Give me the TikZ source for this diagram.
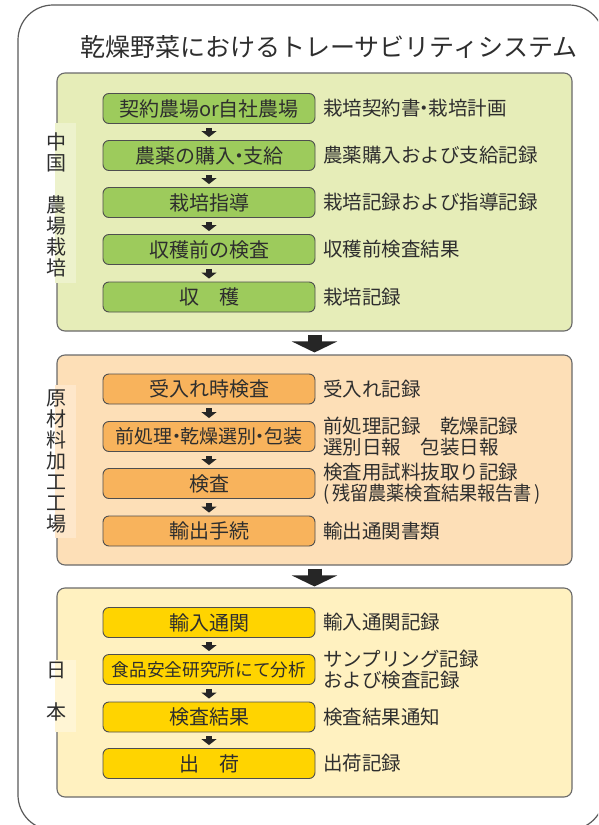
\documentclass[tikz,border=0pt]{standalone}
\usepackage{graphicx}
\usepackage{fontspec}
\setmainfont{Noto Sans CJK JP}
\usetikzlibrary{arrows.meta}
\newcommand\ndot{\hspace{-0.3em}・\hspace{-0.3em}}
\definecolor{txt}{HTML}{2E2E2E}
\definecolor{framec}{HTML}{5A5A5A}
\definecolor{panelline}{HTML}{6A6A6A}
\definecolor{boxline}{HTML}{4E4E4E}
\definecolor{arr}{HTML}{262626}
\definecolor{gpanel}{HTML}{E6EDB8}
\definecolor{gpatch}{HTML}{EDF2CC}
\definecolor{gbox}{HTML}{9DCB5C}
\definecolor{opanel}{HTML}{FDDFB7}
\definecolor{opatch}{HTML}{FEE7CA}
\definecolor{obox}{HTML}{F8B35C}
\definecolor{ypanel}{HTML}{FFF1C0}
\definecolor{ypatch}{HTML}{FFF5D4}
\definecolor{ybox}{HTML}{FFD400}
\tikzset{
  frame/.style={draw=framec, line width=1.2pt, rounded corners=35pt},
  panel/.style={draw=panelline, line width=1.1pt, rounded corners=8pt, minimum width=515pt, inner sep=0pt},
  patch/.style={fill=#1, draw=none},
  stepbox/.style={draw=boxline, line width=0.9pt, rounded corners=6pt, minimum width=212pt, minimum height=30pt, inner sep=0pt, text=txt, font=\fontsize{20}{22}\selectfont},
  rec/.style={anchor=west, align=left, inner sep=0pt, text=txt, font=\fontsize{19.5}{21}\selectfont},
  side/.style={align=center, inner sep=0pt, text=txt, font=\fontsize{20}{21}\selectfont},
  sarrow/.style={draw=arr, line width=5.5pt, -{Triangle[width=15pt,length=6pt]}, shorten <=4pt, shorten >=3pt},
  barrow/.style={draw=arr, line width=14pt, -{Triangle[width=45pt,length=11pt]}}
}
\begin{document}
\begin{tikzpicture}[x=1pt,y=-1pt]
\useasboundingbox (0,0) rectangle (598,825);
\clip (0,0) rectangle (598,825);
\fill[white] (0,0) rectangle (598,825);
\draw[frame] (18,5) rectangle (604,830);

\node[text=txt, font=\fontsize{25}{28}\selectfont, inner sep=0pt] (title) at (329,47) {乾燥野菜におけるトレーサビリティシステム};

% panels
\node[panel, fill=gpanel, minimum height=258pt] (gp) at (314.5,202) {};
\node[panel, fill=opanel, minimum height=210pt] (op) at (314.5,460) {};
\node[panel, fill=ypanel, minimum height=209pt] (yp) at (314.5,692.5) {};

% label patches
\fill[patch=gpatch] (55,123) rectangle (76,283);
\fill[patch=opatch] (55,385) rectangle (76,538);
\fill[patch=ypatch] (55,660) rectangle (76,732);

\node[side] (gl) at (56,205) {中\\国\\[21pt]農\\場\\栽\\培};
\node[side] (ol) at (56,461) {原\\材\\料\\加\\工\\工\\場};
\node[side] (yl) at (56,691.5) {日\\[21pt]本};

% green steps
\node[stepbox, fill=gbox] (g1) at (209,108.5) {契約農場or自社農場};
\node[stepbox, fill=gbox] (g2) at (209,155.5) {農薬の購入\ndot 支給};
\node[stepbox, fill=gbox] (g3) at (209,202.5) {栽培指導};
\node[stepbox, fill=gbox] (g4) at (209,249.5) {収穫前の検査};
\node[stepbox, fill=gbox] (g5) at (209,297) {収　穫};

% orange steps
\node[stepbox, fill=obox] (o1) at (209,389) {受入れ時検査};
\node[stepbox, fill=obox, font=\fontsize{19}{20}\selectfont] (o2) at (209,436.5) {前処理\ndot 乾燥選別\ndot 包装};
\node[stepbox, fill=obox] (o3) at (209,483.5) {検査};
\node[stepbox, fill=obox] (o4) at (209,531) {輸出手続};

% yellow steps
\node[stepbox, fill=ybox] (y1) at (209,622.5) {輸入通関};
\node[stepbox, fill=ybox, font=\fontsize{17.7}{20}\selectfont] (y2) at (209,669.5) {食品安全研究所にて分析};
\node[stepbox, fill=ybox] (y3) at (209,717) {検査結果};
\node[stepbox, fill=ybox] (y4) at (209,763.5) {出　荷};

% records
\node[rec] (rg1) at (323,108.5) {栽培契約書\ndot 栽培計画};
\node[rec] (rg2) at (323,155.5) {農薬購入および支給記録};
\node[rec] (rg3) at (323,202.5) {栽培記録および指導記録};
\node[rec] (rg4) at (323,249.5) {収穫前検査結果};
\node[rec] (rg5) at (323,297) {栽培記録};

\node[rec] (ro1) at (323,389) {受入れ記録};
\node[rec] (ro2) at (323,437) {前処理記録　乾燥記録\\選別日報　包装日報};
\node[rec] (ro3) at (323,483.5) {検査用試料抜取り記録\\\scalebox{0.93}[1]{(\,残留農薬検査結果報告書\,)}};
\node[rec] (ro4) at (323,531) {輸出通関書類};

\node[rec] (ry1) at (323,622.5) {輸入通関記録};
\node[rec] (ry2) at (323,670) {サンプリング記録\\および検査記録};
\node[rec] (ry3) at (323,717) {検査結果通知};
\node[rec] (ry4) at (323,763.5) {出荷記録};

% small arrows
\draw[sarrow] (g1) -- (g2);
\draw[sarrow] (g2) -- (g3);
\draw[sarrow] (g3) -- (g4);
\draw[sarrow] (g4) -- (g5);
\draw[sarrow] (o1) -- (o2);
\draw[sarrow] (o2) -- (o3);
\draw[sarrow] (o3) -- (o4);
\draw[sarrow] (y1) -- (y2);
\draw[sarrow] (y2) -- (y3);
\draw[sarrow] (y3) -- (y4);

% big arrows
\draw[barrow, shorten <=3pt, shorten >=2pt] (gp) -- (op);
\draw[barrow, shorten <=3pt, shorten >=1pt] (op) -- (yp);
\end{tikzpicture}
\end{document}
